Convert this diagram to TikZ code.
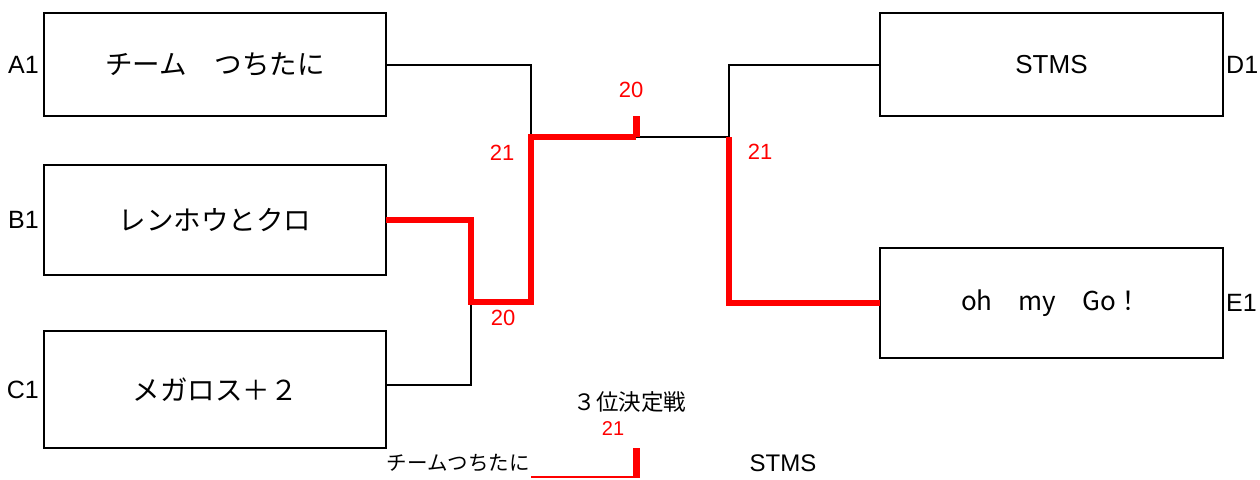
\documentclass[tikz,border=0pt]{standalone}
\usepackage{fontspec}
\setmainfont{Liberation Sans}
\newfontfamily\cjk{Noto Sans CJK JP}
\begin{document}
\begin{tikzpicture}[x=1pt,y=-1pt,
  team/.style={draw=black,line width=2.2pt,inner sep=0pt,outer sep=0pt,minimum width=342pt,font=\fontsize{26}{28}\selectfont},
  seed/.style={inner sep=0pt,font=\fontsize{25}{27}\selectfont},
  score/.style={inner sep=0pt,text=red,font=\fontsize{22}{24}\selectfont},
  thin/.style={draw=black,line width=2pt},
  win/.style={draw=red,line width=6.5pt},
]
\useasboundingbox (0,0) rectangle (1260,479);
% team boxes
\node[team,minimum height=103pt] (A) at (215,64.5) {\cjk\fontsize{27.5}{29}\selectfont チーム　つちたに};
\node[team,minimum height=110pt] (B) at (215,220) {\cjk\fontsize{27.5}{29}\selectfont レンホウとクロ};
\node[team,minimum height=117pt] (C) at (215,389.5) {\cjk\fontsize{27.5}{29}\selectfont メガロス＋２};
\node[team,minimum width=343pt,minimum height=103pt] (D) at (1051.5,64.5) {STMS};
\node[team,minimum width=343pt,minimum height=110pt] (E) at (1051.5,303) {\cjk\fontsize{26}{28}\selectfont oh　my　Go！};
% seed labels
\node[seed,anchor=east,xshift=-5pt] (la) at (A.west) {A1};
\node[seed,anchor=east,xshift=-5pt] (lb) at (B.west) {B1};
\node[seed,anchor=east,xshift=-5pt] (lc) at (C.west) {C1};
\node[seed,anchor=west,xshift=3pt] (ld) at (D.east) {D1};
\node[seed,anchor=west,xshift=3pt] (le) at (E.east) {E1};
% junctions
\coordinate (jbc) at (471,302);
\coordinate (jl) at (531,137);
\coordinate (top) at (636,137);
\coordinate (tick) at (636,116);
\coordinate (jr) at (729,137);
% black connectors
\draw[thin] (A.east) -| (jl);
\draw[thin] ([yshift=4.5pt]C.east) -| (jbc);
\draw[thin] (D.west) -| (jr);
\draw[thin] (top) -- (jr);
% red winner paths
\draw[win] (B.east) -| (jbc) -- (531,302) -- (jl) -- (top);
\draw[win,line width=7pt] (top) -- (tick);
\draw[win] (E.west) -| (jr);
% scores
\node[score] (s1) at (502,153) {21};
\node[score] (s2) at (631,90) {20};
\node[score] (s3) at (503,318) {20};
\node[score] (s4) at (760,152) {21};
% third place match
\node[inner sep=0pt,font=\cjk\fontsize{22.5}{24}\selectfont] (third) at (630,402) {３位決定戦};
\node[score,font=\fontsize{20}{22}\selectfont] (s5) at (613,429) {21};
\node[inner sep=0pt,anchor=east,font=\cjk\fontsize{20.5}{22}\selectfont] (t1) at (530,463) {チームつちたに};
\node[inner sep=0pt,font=\fontsize{24}{26}\selectfont] (t2) at (783,463) {STMS};
\coordinate (b1) at (531,477);
\coordinate (b2) at (640,477);
\coordinate (bt) at (636,448);
\coordinate (bb) at (636,477);
\draw[draw=red,line width=1.5pt] (b1) -- (b2);
\draw[draw=red,line width=7pt] (bt) -- (bb);
\end{tikzpicture}
\end{document}
